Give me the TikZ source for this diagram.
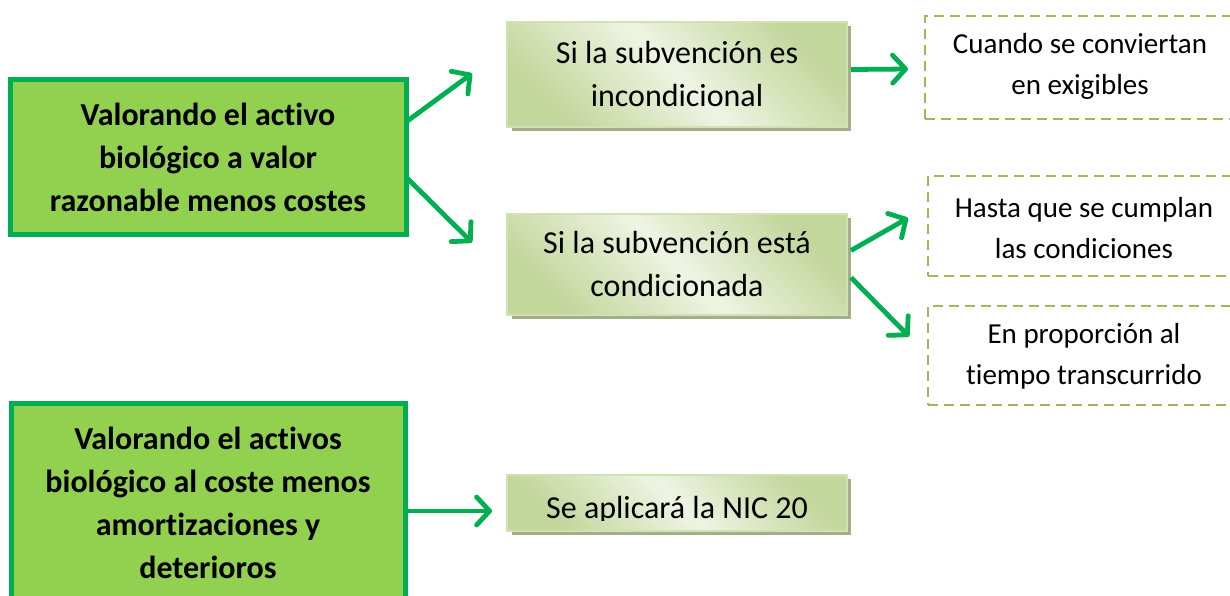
\documentclass[tikz,border=0pt]{standalone}
\usepackage{fontspec}
\setmainfont{Carlito}[Ligatures=NoCommon]
\usetikzlibrary{arrows.meta,calc}
\definecolor{dkgreen}{HTML}{00B050}
\definecolor{ltgreen}{HTML}{92D050}
\definecolor{olive}{HTML}{9BBB59}
\definecolor{gradA}{HTML}{C3D69B}
\definecolor{gradB}{HTML}{EEF4E3}
\definecolor{gradBorder}{HTML}{D2E1B4}
\definecolor{shadowc}{HTML}{A4AE8A}
\tikzset{
  mainbox/.style={draw=dkgreen, fill=ltgreen, line width=5pt, inner sep=0pt, outer sep=0pt},
  maintext/.style={align=center, font=\fontsize{32}{43}\selectfont\bfseries},
  gradbox/.style={draw=gradBorder, line width=1.5pt, top color=gradA, bottom color=gradA, middle color=gradB, shading angle=-45, align=center, inner sep=0pt, outer sep=0pt, font=\fontsize{32}{43}\selectfont},
  dashbox/.style={draw=olive, line width=2.5pt, dash pattern=on 10pt off 6pt, inner sep=0pt, outer sep=0pt},
  dashtext/.style={align=center, font=\fontsize{29}{41}\selectfont},
  arr/.style={draw=dkgreen, line width=4.8pt, -{Straight Barb[length=13pt, width=28pt, line cap=round, line join=round]}}
}
\begin{document}
\begin{tikzpicture}[x=1pt,y=-1pt]
\clip (0,0) rectangle (1230,596);
\fill[white] (0,0) rectangle (1230,596);
% main boxes
\node[mainbox, minimum width=396pt, minimum height=154pt, anchor=north west, maintext] (a) at (10,80) {Valorando el activo\\biológico a valor\\razonable menos costes};
\node[mainbox, minimum width=394pt, minimum height=216pt, anchor=north west] (b) at (11,403) {};
\node[maintext, anchor=center] (bt) at (208,503) {Valorando el activos\\biológico al coste menos\\amortizaciones y\\deterioros};
% shadows
\fill[shadowc] (512,26) rectangle (851,131);
\fill[shadowc] (512,218) rectangle (851,319);
\fill[shadowc] (512,479) rectangle (851,535);
% gradient boxes
\node[gradbox, minimum width=340pt, minimum height=105pt, anchor=north west] (c) at (507,22) {Si la subvención es\\incondicional};
\node[gradbox, minimum width=340pt, minimum height=101pt, anchor=north west] (d) at (507,214) {Si la subvención está\\condicionada};
\node[gradbox, minimum width=340pt, minimum height=56pt, anchor=north west] (e) at (507,475) {};
\begin{scope}
\clip (507,475) rectangle (847,520);
\node[font=\fontsize{32}{40}\selectfont, anchor=base] (et) at (677,518) {Se aplicará la NIC 20};
\end{scope}
% dashed boxes
\node[dashbox, minimum width=310pt, minimum height=103pt, anchor=north west] (f) at (925,16) {};
\node[dashtext] (ft) at (1080,66) {Cuando se conviertan\\en exigibles};
\node[dashbox, minimum width=310pt, minimum height=100pt, anchor=north west] (g) at (928,176) {};
\node[dashtext] (gt) at (1084,228) {Hasta que se cumplan\\las condiciones};
\node[dashbox, minimum width=310pt, minimum height=99pt, anchor=north west] (h) at (928,306) {};
\node[dashtext] (ht) at (1084,356) {En proporción al\\tiempo transcurrido};
% arrows
\draw[arr] ([yshift=35pt]a.east) -- ([xshift=-35pt,yshift=1pt]c.west);
\draw[arr] ([yshift=-20pt]a.east) -- ([xshift=-35pt,yshift=22pt]d.west);
\draw[arr] ([xshift=4pt,yshift=5pt]c.east) -- ([xshift=-17pt,yshift=-1.5pt]f.west);
\draw[arr] ([xshift=4pt,yshift=14pt]d.east) -- ([xshift=-20pt,yshift=8pt]g.west);
\draw[arr] ([xshift=4pt,yshift=-13pt]d.east) -- ([xshift=-19pt,yshift=19pt]h.west);
\draw[arr] ([xshift=2pt]b.east) -- ([xshift=-15pt,yshift=-8pt]e.west);
\end{tikzpicture}
\end{document}
